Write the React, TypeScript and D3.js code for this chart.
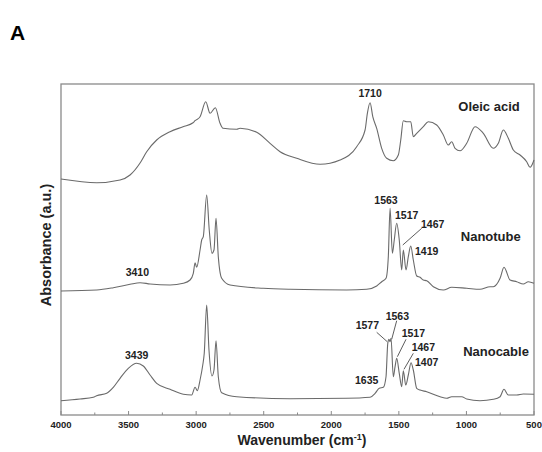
import React from 'react';
import * as d3 from 'd3';

// wavenumber (cm-1) and absorbance (a.u., stacked offsets)
const oleicWn = [4000, 3736, 3563, 3489, 3415, 3366, 3292, 3193, 3097, 3023, 3008, 2971, 2929, 2897, 2858, 2823, 2801, 2700, 2675, 2552, 2453, 2379, 2256, 2083, 1935, 1812, 1750, 1733, 1713, 1693, 1664, 1627, 1590, 1541, 1504, 1486, 1467, 1442, 1412, 1393, 1368, 1319, 1282, 1220, 1171, 1134, 1109, 1084, 1047, 998, 936, 875, 801, 764, 727, 690, 653, 603, 554, 529, 500];
const oleicAbs = [2.36, 2.323, 2.35, 2.4, 2.52, 2.633, 2.75, 2.833, 2.883, 2.923, 2.943, 2.983, 3.133, 3.017, 3.073, 2.917, 2.867, 2.857, 2.867, 2.827, 2.717, 2.633, 2.567, 2.507, 2.55, 2.683, 2.85, 3.017, 3.123, 2.983, 2.867, 2.667, 2.567, 2.543, 2.6, 2.75, 2.943, 2.933, 2.933, 2.783, 2.817, 2.883, 2.933, 2.9, 2.8, 2.7, 2.733, 2.667, 2.643, 2.717, 2.883, 2.817, 2.667, 2.717, 2.85, 2.767, 2.65, 2.6, 2.533, 2.477, 2.55];

const tubeWn = [4000, 3736, 3613, 3489, 3415, 3341, 3193, 3095, 3045, 3021, 3008, 2996, 2971, 2959, 2947, 2922, 2903, 2883, 2868, 2853, 2836, 2811, 2749, 2503, 2305, 1886, 1738, 1664, 1627, 1595, 1578, 1565, 1548, 1534, 1516, 1497, 1479, 1467, 1447, 1430, 1412, 1393, 1368, 1343, 1319, 1294, 1245, 1171, 1109, 998, 900, 825, 801, 751, 722, 677, 628, 579, 542, 500];
const tubeAbs = [1.24, 1.25, 1.273, 1.307, 1.323, 1.31, 1.3, 1.317, 1.35, 1.417, 1.523, 1.477, 1.65, 1.75, 1.783, 2.2, 1.85, 1.617, 1.65, 1.967, 1.583, 1.367, 1.3, 1.267, 1.257, 1.25, 1.257, 1.29, 1.333, 1.367, 1.583, 2.067, 1.617, 1.75, 1.917, 1.75, 1.45, 1.65, 1.45, 1.583, 1.69, 1.55, 1.39, 1.377, 1.35, 1.343, 1.283, 1.25, 1.277, 1.267, 1.257, 1.283, 1.283, 1.367, 1.477, 1.35, 1.333, 1.31, 1.333, 1.317];

const cableWn = [4000, 3859, 3761, 3736, 3662, 3613, 3563, 3502, 3440, 3391, 3341, 3292, 3193, 3095, 3033, 3008, 2991, 2971, 2951, 2940, 2922, 2905, 2883, 2868, 2853, 2836, 2811, 2700, 2305, 1886, 1713, 1676, 1645, 1615, 1595, 1582, 1573, 1565, 1558, 1541, 1528, 1516, 1497, 1479, 1467, 1449, 1430, 1410, 1393, 1368, 1343, 1294, 1195, 1146, 1109, 1035, 998, 900, 801, 751, 722, 690, 628, 579, 500];
const cableAbs = [0.143, 0.16, 0.177, 0.193, 0.217, 0.277, 0.367, 0.467, 0.517, 0.49, 0.4, 0.317, 0.257, 0.207, 0.2, 0.277, 0.243, 0.35, 0.5, 0.617, 1.1, 0.65, 0.39, 0.45, 0.743, 0.383, 0.223, 0.183, 0.163, 0.167, 0.177, 0.217, 0.267, 0.277, 0.383, 0.717, 0.757, 0.733, 0.767, 0.383, 0.483, 0.567, 0.417, 0.283, 0.443, 0.3, 0.4, 0.523, 0.45, 0.267, 0.25, 0.233, 0.183, 0.167, 0.183, 0.183, 0.16, 0.143, 0.157, 0.183, 0.257, 0.2, 0.2, 0.21, 0.207];

const seriesNames = ['Oleic acid', 'Nanotube', 'Nanocable'];
const seriesLabelWn = [833, 820, 781];
const seriesLabelAbs = [3.083, 1.783, 0.633];

// peak annotations: text, wavenumber and absorbance where the text sits
const peakText = ['1710', '3410', '1563', '1517', '1467', '1419', '3439', '1577', '1563', '1517', '1467', '1407', '1635'];
const peakTextWn = [1713, 3435, 1595, 1442, 1250, 1294, 3440, 1733, 1511, 1393, 1319, 1294, 1738];
const peakTextAbs = [3.217, 1.423, 2.15, 2.0, 1.907, 1.633, 0.593, 0.9, 0.99, 0.817, 0.673, 0.523, 0.35];

// leader lines [wn1, abs1, wn2, abs2]
const leaders = [
  [1331, 1.867, 1471, 1.7],
  [1664, 0.827, 1586, 0.733],
  [1516, 0.943, 1553, 0.757],
  [1447, 0.757, 1511, 0.583],
  [1393, 0.617, 1462, 0.457],
];

const xTicks = [4000, 3500, 3000, 2500, 2000, 1500, 1000, 500];
const xMinor = [3750, 3250, 2750, 2250, 1750, 1250, 750];

const W = 542;
const H = 452;
const left = 61, right = 534, top = 84, bottom = 415;
const font = "'Liberation Sans', Arial, sans-serif";

export default function App() {
  const x = d3.scaleLinear().domain([4000, 500]).range([left, right]);
  const y = d3.scaleLinear().domain([0, 3.31]).range([bottom, top]);

  const line = d3.line<[number, number]>()
    .x(d => x(d[0]))
    .y(d => y(d[1]))
    .curve(d3.curveMonotoneX);

  const series = [
    d3.zip(oleicWn, oleicAbs),
    d3.zip(tubeWn, tubeAbs),
    d3.zip(cableWn, cableAbs),
  ] as [number, number][][];

  return (
    <svg width={W} height={H} style={{ position: 'absolute', left: 0, top: 0, background: '#fff' }}
      fontFamily={font}>
      <text x={10} y={40} fontSize={21} fontWeight="bold" fill="#000">A</text>

      <rect x={left} y={top} width={right - left} height={bottom - top}
        fill="none" stroke="#8a8a8a" strokeWidth={1.3} />

      {xTicks.map(t => (
        <g key={t}>
          <line x1={x(t)} x2={x(t)} y1={bottom} y2={bottom - 4} stroke="#8a8a8a" strokeWidth={1} />
          <text x={x(t)} y={bottom + 12.5} textAnchor="middle" fontSize={9.5} fontWeight="bold" fill="#222">{t}</text>
        </g>
      ))}
      {xMinor.map(t => (
        <line key={t} x1={x(t)} x2={x(t)} y1={bottom} y2={bottom - 2.5} stroke="#8a8a8a" strokeWidth={1} />
      ))}

      <text x={302} y={445} textAnchor="middle" fontSize={14} fontWeight="bold" fill="#222">
        Wavenumber (cm<tspan dy={-5} fontSize={9}>-1</tspan><tspan dy={5}>)</tspan>
      </text>
      <text transform={`translate(51,245) rotate(-90)`} textAnchor="middle" fontSize={14.5} fontWeight="bold" fill="#222">
        Absorbance (a.u.)
      </text>

      {series.map((s, i) => (
        <path key={i} d={line(s) || ''} fill="none" stroke="#6a6a6a" strokeWidth={1.1} />
      ))}

      {seriesNames.map((n, i) => (
        <text key={n} x={x(seriesLabelWn[i])} y={y(seriesLabelAbs[i])} dy="0.35em" textAnchor="middle"
          fontSize={13} fontWeight="bold" fill="#222">{n}</text>
      ))}

      {peakText.map((t, i) => (
        <text key={i} x={x(peakTextWn[i])} y={y(peakTextAbs[i])} dy="0.35em" textAnchor="middle"
          fontSize={10.5} fontWeight="bold" fill="#222">{t}</text>
      ))}

      {leaders.map((l, i) => (
        <line key={i} x1={x(l[0])} y1={y(l[1])} x2={x(l[2])} y2={y(l[3])} stroke="#333" strokeWidth={0.8} />
      ))}
    </svg>
  );
}
